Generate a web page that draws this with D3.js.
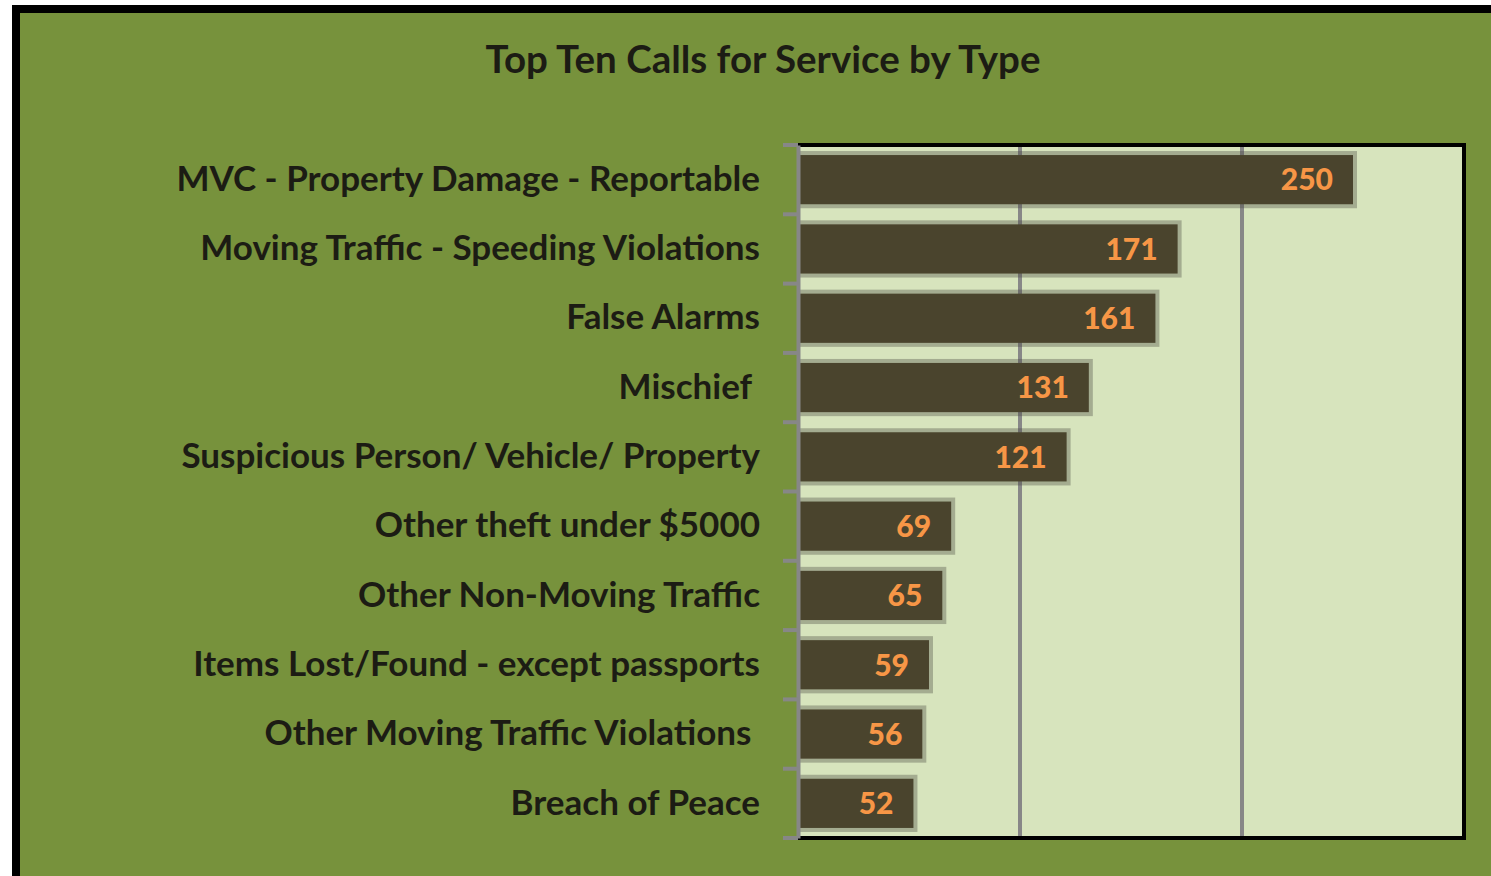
<!DOCTYPE html>
<html>
<head>
<meta charset="utf-8">
<script src="https://cdn.jsdelivr.net/npm/d3@7"></script>
<style>
  html, body { margin: 0; padding: 0; background: #ffffff; overflow: hidden; }
  #chart { width: 1491px; height: 876px; }
</style>
</head>
<body>
<div id="chart"></div>
<script>
// data
const categories = [
  "MVC - Property Damage - Reportable",
  "Moving Traffic - Speeding Violations",
  "False Alarms",
  "Mischief ",
  "Suspicious Person/ Vehicle/ Property",
  "Other theft under $5000",
  "Other Non-Moving Traffic",
  "Items Lost/Found - except passports",
  "Other Moving Traffic Violations ",
  "Breach of Peace"
];
const callCounts = [250, 171, 161, 131, 121, 69, 65, 59, 56, 52];
const gridValues = [100, 200];
const chartTitle = "Top Ten Calls for Service by Type";

const W = 1491, H = 876;
const font = "Lato, 'Open Sans', sans-serif";

const svg = d3.select("#chart")
  .append("svg")
  .attr("width", W)
  .attr("height", H);

// outer frame
svg.append("rect")
  .attr("x", 16).attr("y", 9)
  .attr("width", W + 20).attr("height", H + 20)
  .attr("fill", "#77923c")
  .attr("stroke", "#000")
  .attr("stroke-width", 8);

svg.append("text")
  .attr("x", 763)
  .attr("y", 73)
  .attr("text-anchor", "middle")
  .attr("font-family", font)
  .attr("font-weight", 700)
  .attr("font-size", "38.5px")
  .attr("fill", "#1c1c14")
  .text(chartTitle);

const plot = { left: 798, right: 1464, top: 145, bottom: 838 };

const x = d3.scaleLinear().domain([0, 300]).range([plot.left, plot.right]);
const y = d3.scaleBand().domain(categories).range([plot.top, plot.bottom]).paddingInner(0.29).paddingOuter(0.145);

// plot area background
svg.append("rect")
  .attr("x", plot.left).attr("y", plot.top)
  .attr("width", plot.right - plot.left).attr("height", plot.bottom - plot.top)
  .attr("fill", "#d7e4bd");

// gridlines
svg.selectAll(".grid")
  .data(gridValues)
  .enter().append("line")
  .attr("class", "grid")
  .attr("x1", d => x(d)).attr("x2", d => x(d))
  .attr("y1", plot.top).attr("y2", plot.bottom)
  .attr("stroke", "#878787")
  .attr("stroke-width", 4);

const rows = categories.map((c, i) => ({ cat: c, value: callCounts[i] }));

// bar shadows
svg.selectAll(".shadow")
  .data(rows)
  .enter().append("rect")
  .attr("class", "shadow")
  .attr("x", x(0))
  .attr("y", d => y(d.cat) - 4)
  .attr("width", d => x(d.value) - x(0) + 4)
  .attr("height", y.bandwidth() + 8)
  .attr("fill", "rgba(70,70,60,0.35)");

svg.selectAll(".bar")
  .data(rows)
  .enter().append("rect")
  .attr("class", "bar")
  .attr("x", x(0))
  .attr("y", d => y(d.cat))
  .attr("width", d => x(d.value) - x(0))
  .attr("height", y.bandwidth())
  .attr("fill", "#4a442d");

svg.selectAll(".val")
  .data(rows)
  .enter().append("text")
  .attr("class", "val")
  .attr("x", d => x(d.value) - 20)
  .attr("y", d => y(d.cat) + y.bandwidth() / 2)
  .attr("dy", "0.36em")
  .attr("text-anchor", "end")
  .attr("font-family", font)
  .attr("font-weight", 900)
  .attr("font-size", "30px")
  .attr("fill", "#f79646")
  .text(d => d.value);

// plot border (top, right, bottom)
svg.append("path")
  .attr("d", `M${plot.left},${plot.top}H${plot.right}V${plot.bottom}H${plot.left}`)
  .attr("fill", "none")
  .attr("stroke", "#000")
  .attr("stroke-width", 4);

// category axis
const yAxis = d3.axisLeft(y).tickSize(0).tickPadding(38);
const axisG = svg.append("g")
  .attr("transform", `translate(${plot.left},0)`)
  .call(yAxis);
axisG.select(".domain").attr("stroke", "#878787").attr("stroke-width", 4);
axisG.selectAll("text")
  .attr("font-family", font)
  .attr("font-weight", 700)
  .attr("font-size", "35px")
  .attr("fill", "#1c1c14")
  .style("white-space", "pre");

// band boundary ticks
const bounds = d3.range(categories.length + 1).map(i => plot.top + i * y.step());
svg.selectAll(".btick")
  .data(bounds)
  .enter().append("line")
  .attr("class", "btick")
  .attr("x1", plot.left - 15).attr("x2", plot.left)
  .attr("y1", d => d).attr("y2", d => d)
  .attr("stroke", "#878787")
  .attr("stroke-width", 4);
</script>
</body>
</html>
